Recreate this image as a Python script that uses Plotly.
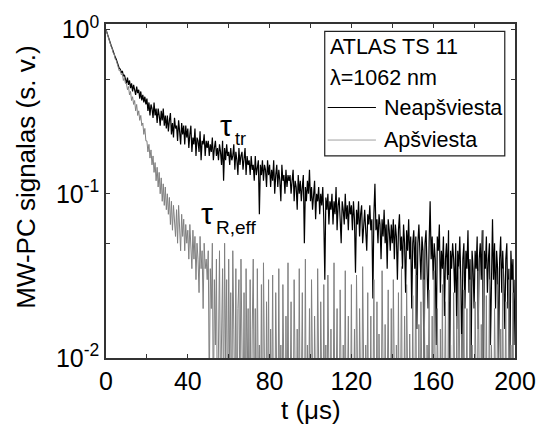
import plotly.graph_objects as go

# sample times (µs), 0.5 µs step
t_us = [i * 0.5 for i in range(401)]

neapsviesta = [
    1.00, 0.95, 0.91, 0.88, 0.84, 0.80, 0.77, 0.73, 0.71, 0.68, 0.66, 0.63, 0.62, 0.58, 0.575, 0.545, 0.56, 0.52, 0.53, 0.50,
    0.47, 0.51, 0.46, 0.49, 0.44, 0.47, 0.42, 0.46, 0.43, 0.40, 0.45, 0.41, 0.43, 0.38, 0.42, 0.37, 0.40, 0.36, 0.39, 0.35,
    0.38, 0.32, 0.36, 0.30, 0.35, 0.33, 0.29, 0.36, 0.30, 0.33, 0.27, 0.33, 0.30, 0.26, 0.32, 0.28, 0.33, 0.26, 0.30, 0.25,
    0.30, 0.24, 0.28, 0.31, 0.23, 0.27, 0.22, 0.29, 0.25, 0.26, 0.21, 0.28, 0.24, 0.20, 0.27, 0.23, 0.26, 0.20, 0.26, 0.22,
    0.25, 0.19, 0.23, 0.26, 0.18, 0.22, 0.20, 0.25, 0.17, 0.22, 0.21, 0.18, 0.24, 0.16, 0.21, 0.20, 0.23, 0.17, 0.21, 0.19,
    0.21, 0.17, 0.20, 0.18, 0.22, 0.16, 0.19, 0.21, 0.17, 0.19, 0.16, 0.20, 0.18, 0.15, 0.21, 0.12, 0.19, 0.16, 0.20, 0.17,
    0.18, 0.15, 0.19, 0.16, 0.17, 0.20, 0.14, 0.18, 0.16, 0.13, 0.19, 0.15, 0.17, 0.18, 0.14, 0.16, 0.19, 0.13, 0.17, 0.15,
    0.16, 0.13, 0.17, 0.14, 0.15, 0.12, 0.17, 0.13, 0.15, 0.16, 0.075, 0.15, 0.13, 0.16, 0.12, 0.15, 0.14, 0.11, 0.16, 0.13,
    0.15, 0.11, 0.14, 0.12, 0.16, 0.10, 0.13, 0.15, 0.11, 0.14, 0.12, 0.09, 0.15, 0.12, 0.13, 0.10, 0.14, 0.11, 0.13, 0.12,
    0.13, 0.10, 0.12, 0.14, 0.09, 0.12, 0.11, 0.08, 0.13, 0.10, 0.12, 0.09, 0.11, 0.13, 0.05, 0.11, 0.09, 0.12, 0.10, 0.14,
    0.09, 0.11, 0.08, 0.10, 0.12, 0.07, 0.10, 0.09, 0.11, 0.075, 0.10, 0.085, 0.11, 0.07, 0.03, 0.095, 0.08, 0.10, 0.065, 0.09,
    0.08, 0.10, 0.065, 0.09, 0.075, 0.11, 0.06, 0.085, 0.095, 0.07, 0.05, 0.09, 0.08, 0.065, 0.10, 0.07, 0.085, 0.06, 0.09, 0.075,
    0.085, 0.06, 0.09, 0.07, 0.033, 0.08, 0.065, 0.09, 0.055, 0.075, 0.085, 0.05, 0.07, 0.08, 0.06, 0.045, 0.075, 0.065, 0.085, 0.06,
    0.07, 0.023, 0.075, 0.115, 0.06, 0.07, 0.05, 0.075, 0.065, 0.04, 0.07, 0.055, 0.08, 0.05, 0.065, 0.035, 0.07, 0.06, 0.045, 0.065,
    0.05, 0.07, 0.04, 0.065, 0.055, 0.03, 0.06, 0.075, 0.045, 0.055, 0.035, 0.065, 0.05, 0.025, 0.06, 0.045, 0.07, 0.04, 0.055, 0.02,
    0.05, 0.06, 0.035, 0.055, 0.015, 0.05, 0.065, 0.04, 0.03, 0.055, 0.045, 0.008, 0.05, 0.06, 0.035, 0.02, 0.05, 0.09, 0.04, 0.055,
    0.03, 0.05, 0.04, 0.012, 0.055, 0.045, 0.065, 0.025, 0.045, 0.035, 0.055, 0.018, 0.04, 0.05, 0.03, 0.06, 0.006, 0.045, 0.035, 0.05,
    0.04, 0.025, 0.05, 0.015, 0.045, 0.035, 0.055, 0.03, 0.01, 0.04, 0.05, 0.02, 0.045, 0.035, 0.06, 0.025, 0.04, 0.008, 0.045, 0.035,
    0.02, 0.045, 0.035, 0.055, 0.015, 0.04, 0.05, 0.03, 0.06, 0.007, 0.045, 0.035, 0.055, 0.025, 0.04, 0.05, 0.012, 0.045, 0.07, 0.03,
    0.05, 0.02, 0.045, 0.035, 0.01, 0.04, 0.055, 0.025, 0.045, 0.03, 0.015, 0.04, 0.05, 0.02, 0.035, 0.009, 0.045, 0.03, 0.04, 0.012,
    0.03,
]

apsviesta = [
    1.00, 0.95, 0.91, 0.87, 0.84, 0.79, 0.77, 0.72, 0.71, 0.66, 0.65, 0.62, 0.60, 0.56, 0.565, 0.53, 0.54, 0.49, 0.51, 0.47,
    0.47, 0.43, 0.45, 0.40, 0.42, 0.37, 0.39, 0.35, 0.37, 0.32, 0.35, 0.30, 0.32, 0.28, 0.30, 0.26, 0.27, 0.23, 0.25, 0.21,
    0.21, 0.18, 0.20, 0.165, 0.185, 0.15, 0.17, 0.135, 0.155, 0.12, 0.145, 0.11, 0.135, 0.10, 0.125, 0.09, 0.115, 0.085, 0.11, 0.08,
    0.10, 0.075, 0.095, 0.065, 0.09, 0.06, 0.085, 0.07, 0.055, 0.08, 0.05, 0.085, 0.06, 0.045, 0.075, 0.055, 0.07, 0.045, 0.065, 0.05,
    0.06, 0.04, 0.065, 0.045, 0.035, 0.06, 0.04, 0.055, 0.03, 0.05, 0.04, 0.025, 0.055, 0.035, 0.045, 0.02, 0.05, 0.035, 0.04, 0.03,
    0.045, 0.006, 0.035, 0.02, 0.05, 0.004, 0.03, 0.012, 0.04, 0.003, 0.025, 0.045, 0.005, 0.02, 0.035, 0.004, 0.05, 0.01, 0.03, 0.003,
    0.04, 0.008, 0.025, 0.003, 0.045, 0.015, 0.004, 0.035, 0.002, 0.02, 0.03, 0.005, 0.04, 0.012, 0.003, 0.025, 0.002, 0.035, 0.007, 0.02,
    0.003, 0.03, 0.002, 0.015, 0.04, 0.004, 0.02, 0.002, 0.035, 0.006, 0.012, 0.003, 0.028, 0.002, 0.038, 0.005, 0.002, 0.022, 0.004, 0.03,
    0.002, 0.015, 0.004, 0.032, 0.002, 0.003, 0.025, 0.006, 0.002, 0.035, 0.003, 0.012, 0.002, 0.028, 0.004, 0.002, 0.018, 0.003, 0.038, 0.002,
    0.005, 0.022, 0.002, 0.003, 0.03, 0.004, 0.002, 0.015, 0.002, 0.035, 0.003, 0.006, 0.025, 0.002, 0.003, 0.04, 0.002, 0.012, 0.004, 0.02,
    0.002, 0.03, 0.003, 0.002, 0.018, 0.005, 0.002, 0.035, 0.003, 0.002, 0.022, 0.004, 0.002, 0.028, 0.003, 0.012, 0.002, 0.032, 0.004, 0.002,
    0.015, 0.002, 0.003, 0.038, 0.002, 0.006, 0.02, 0.002, 0.003, 0.026, 0.004, 0.002, 0.012, 0.003, 0.034, 0.002, 0.005, 0.018, 0.002, 0.003,
    0.028, 0.002, 0.004, 0.015, 0.002, 0.032, 0.003, 0.002, 0.02, 0.005, 0.002, 0.036, 0.003, 0.002, 0.012, 0.004, 0.025, 0.002, 0.003, 0.018,
    0.002, 0.005, 0.03, 0.002, 0.003, 0.022, 0.002, 0.014, 0.004, 0.002, 0.034, 0.003, 0.002, 0.016, 0.002, 0.006, 0.026, 0.002, 0.003, 0.02,
    0.002, 0.03, 0.004, 0.002, 0.012, 0.003, 0.025, 0.002, 0.005, 0.036, 0.002, 0.003, 0.018, 0.002, 0.028, 0.004, 0.002, 0.014, 0.003, 0.002,
    0.024, 0.002, 0.006, 0.032, 0.002, 0.003, 0.016, 0.002, 0.022, 0.004, 0.002, 0.03, 0.003, 0.002, 0.012, 0.005, 0.026, 0.002, 0.003, 0.018,
    0.002, 0.034, 0.003, 0.002, 0.02, 0.004, 0.002, 0.015, 0.003, 0.028, 0.002, 0.006, 0.022, 0.002, 0.003, 0.032, 0.002, 0.012, 0.004, 0.002,
    0.025, 0.003, 0.002, 0.018, 0.002, 0.036, 0.004, 0.002, 0.014, 0.003, 0.026, 0.002, 0.005, 0.02, 0.002, 0.003, 0.03, 0.002, 0.012, 0.004,
    0.002, 0.022, 0.003, 0.002, 0.034, 0.005, 0.002, 0.016, 0.003, 0.06, 0.002, 0.004, 0.024, 0.002, 0.003, 0.03, 0.002, 0.012, 0.005, 0.002,
    0.02, 0.003, 0.002, 0.028, 0.004, 0.002, 0.015, 0.003, 0.035, 0.002, 0.005, 0.022, 0.002, 0.003, 0.03, 0.002, 0.012, 0.004, 0.025, 0.002,
    0.003,
]

x_tickvals = [0, 40, 80, 120, 160, 200]
x_minorvals = [20, 60, 100, 140, 180]
y_tickvals = [0.01, 0.1, 1]
y_ticktext = ["10<sup>-2</sup>", "10<sup>-1</sup>", "10<sup>0</sup>"]
y_minorvals = [0.05, 0.5]

BLACK = "#000000"
GRAY = "#808080"
FONT = "Arial, Liberation Sans, sans-serif"

fig = go.Figure()
fig.add_trace(go.Scatter(x=t_us, y=neapsviesta, mode="lines", name="Neapšviesta",
                         line=dict(color=BLACK, width=1.2), showlegend=False))
fig.add_trace(go.Scatter(x=t_us, y=apsviesta, mode="lines", name="Apšviesta",
                         line=dict(color=GRAY, width=1), showlegend=False))

axis_common = dict(showline=True, linecolor="#333", linewidth=1.5, mirror="ticks",
                   ticks="inside", ticklen=4, tickcolor="#333", showgrid=False,
                   zeroline=False, tickfont=dict(size=25, color="black", family=FONT))

fig.update_xaxes(range=[0, 200], tickmode="array", tickvals=x_tickvals,
                 ticktext=[str(v) for v in x_tickvals],
                 minor=dict(tickmode="array", tickvals=x_minorvals, ticks="inside",
                            ticklen=4, tickcolor="#333", showgrid=False),
                 **axis_common)
fig.update_yaxes(type="log", range=[-2, 0.034], tickmode="array",
                 tickvals=y_tickvals, ticktext=y_ticktext,
                 minor=dict(tickmode="array", tickvals=y_minorvals, ticks="inside",
                            ticklen=4, tickcolor="#333", showgrid=False),
                 **axis_common)

annotations = [
    dict(text="MW-PC signalas (s. v.)", xref="paper", yref="paper", x=-0.196, y=0.542,
         textangle=-90, showarrow=False, font=dict(size=26, family=FONT, color="black"),
         xanchor="center", yanchor="middle"),
    dict(text="t (μs)", xref="paper", yref="paper", x=0.5, y=-0.155,
         showarrow=False, font=dict(size=26, family=FONT, color="black"),
         xanchor="center", yanchor="middle"),
    dict(text="τ", x=58.8, y=-0.585, showarrow=False,
         font=dict(size=30, family=FONT, color="black"), xanchor="center", yanchor="middle"),
    dict(text="tr", x=62.3, y=-0.665, showarrow=False,
         font=dict(size=18, family=FONT, color="black"), xanchor="left", yanchor="middle"),
    dict(text="τ", x=49.2, y=-1.12, showarrow=False,
         font=dict(size=30, family=FONT, color="black"), xanchor="center", yanchor="middle"),
    dict(text="R,eff", x=52.9, y=-1.206, showarrow=False,
         font=dict(size=19, family=FONT, color="black"), xanchor="left", yanchor="middle"),
    dict(text="ATLAS TS 11", xref="paper", yref="paper", x=0.542, y=0.9306,
         showarrow=False, font=dict(size=21.5, family=FONT, color="black"),
         xanchor="left", yanchor="middle"),
    dict(text="λ=1062 nm", xref="paper", yref="paper", x=0.542, y=0.839,
         showarrow=False, font=dict(size=21.5, family=FONT, color="black"),
         xanchor="left", yanchor="middle"),
    dict(text="Neapšviesta", xref="paper", yref="paper", x=0.675, y=0.748,
         showarrow=False, font=dict(size=21.5, family=FONT, color="black"),
         xanchor="left", yanchor="middle"),
    dict(text="Apšviesta", xref="paper", yref="paper", x=0.675, y=0.653,
         showarrow=False, font=dict(size=21.5, family=FONT, color="black"),
         xanchor="left", yanchor="middle"),
]

shapes = [
    dict(type="rect", xref="paper", yref="paper", x0=0.5348, x1=0.975, y0=0.605, y1=0.978,
         line=dict(color="#222", width=1.2), fillcolor="white", layer="above"),
    dict(type="line", xref="paper", yref="paper", x0=0.542, x1=0.660, y0=0.750, y1=0.750,
         line=dict(color=BLACK, width=1)),
    dict(type="line", xref="paper", yref="paper", x0=0.542, x1=0.660, y0=0.6526, y1=0.6526,
         line=dict(color="#a0a0a0", width=1)),
]

fig.update_layout(
    width=548, height=429,
    margin=dict(l=106, r=25, t=23, b=71),
    paper_bgcolor="white", plot_bgcolor="white",
    font=dict(family=FONT, color="black"),
    annotations=annotations, shapes=shapes,
)

fig.write_html("out.html")
